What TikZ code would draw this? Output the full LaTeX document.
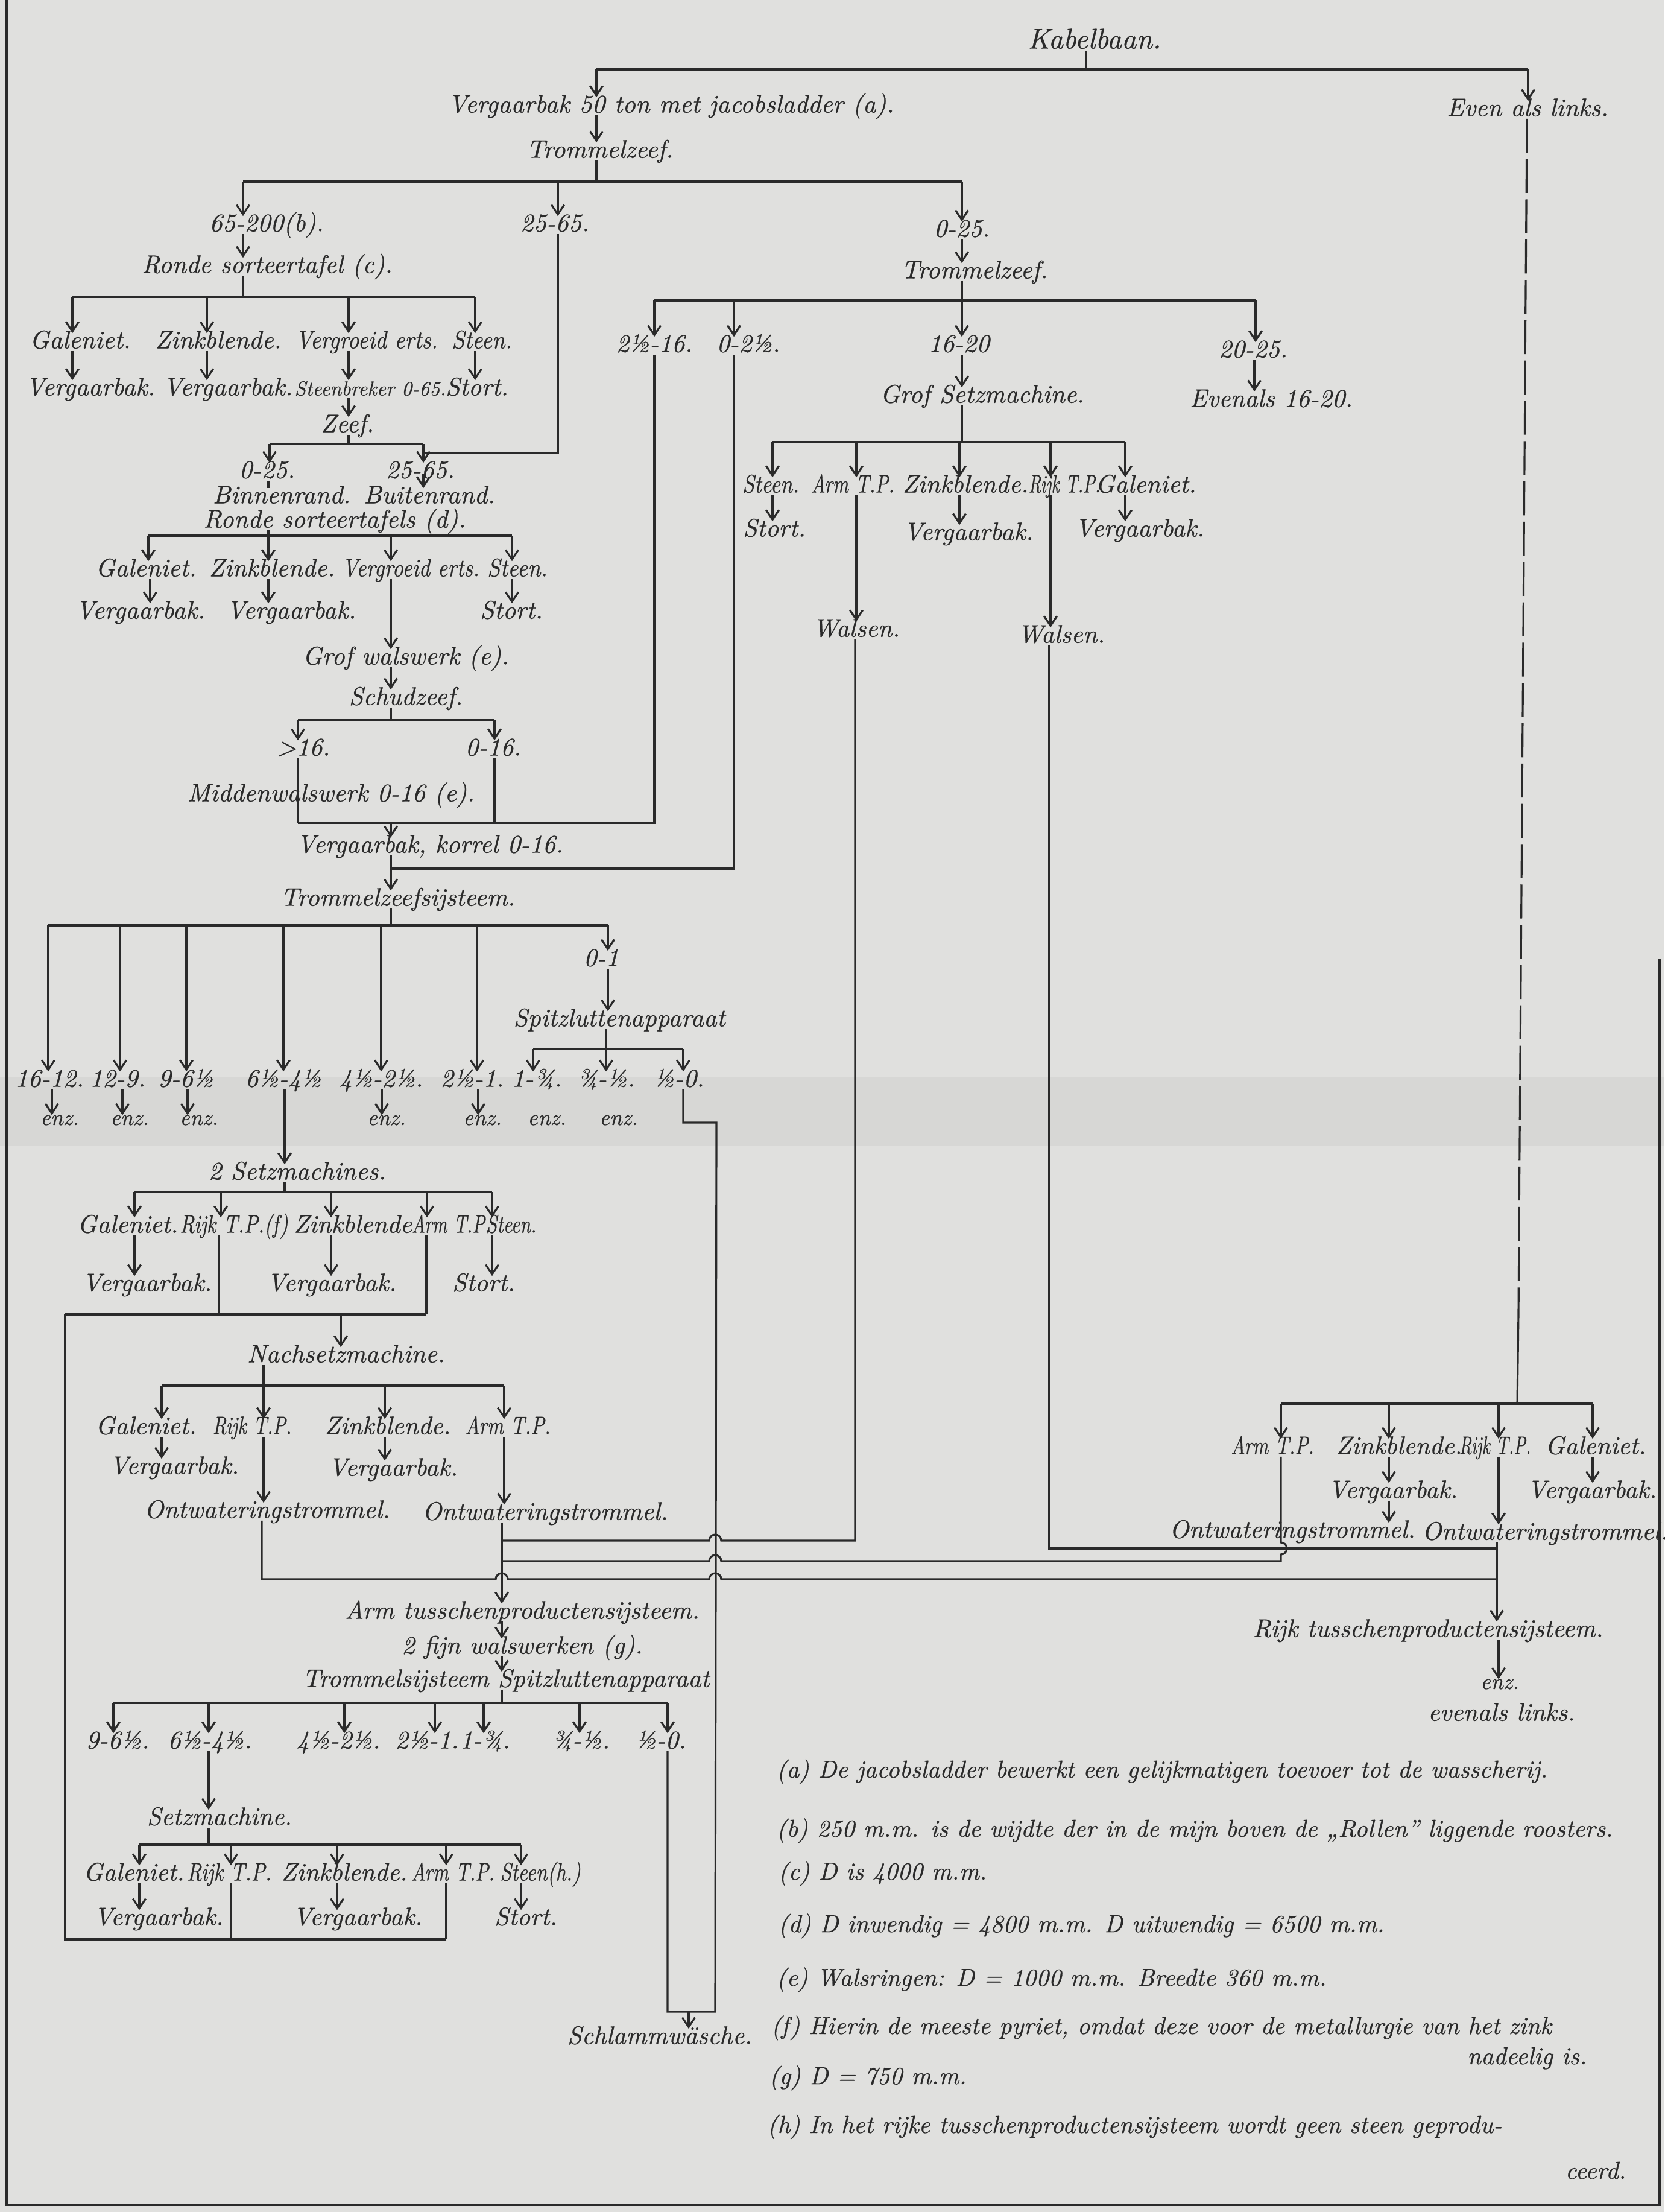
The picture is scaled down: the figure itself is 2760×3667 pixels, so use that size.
\documentclass[tikz,border=0pt]{standalone}
\usepackage{graphicx}
\usepackage{fontspec}
\newfontfamily\handit{lmroman10-italic}[Extension=.otf,FakeBold=0.6]
\usetikzlibrary{arrows.meta}
\definecolor{paper}{RGB}{224,224,222}
\definecolor{foldc}{RGB}{215,215,213}
\definecolor{ink}{RGB}{42,42,42}
\newcommand\labfont{\fontsize{12}{13}\handit}
\newcommand\kabfont{\fontsize{13.5}{14}\handit}
\newcommand\smlfont{\fontsize{9.5}{10}\handit}
\newcommand\enzfont{\fontsize{10.5}{11}\handit}
\newcommand\notefont{\fontsize{11.6}{13}\handit}
\newcommand\cz[2]{\scalebox{#1}[1]{#2}}
\tikzset{
  lab/.style={font=\labfont, text=ink, inner sep=0pt, text height=7pt, text depth=1pt},
  labk/.style={lab, font=\kabfont},
  labs/.style={lab, font=\smlfont},
  enzlab/.style={font=\enzfont, text=ink, inner sep=0pt, text height=4.5pt, text depth=0.5pt},
  note/.style={font=\notefont, text=ink, inner sep=0pt, anchor=base west},
  noteR/.style={font=\notefont, text=ink, inner sep=0pt, anchor=base east},
  ln/.style={draw=ink, line width=0.9pt},
  ar/.style={ln, -{Straight Barb[length=4.5pt,width=6pt]}},
  dashln/.style={ln, dash pattern=on 16pt off 3pt},
}
% arrow from a bar at (x,y) down to the top of a node
\newcommand\barto[3]{\draw[ar] (#1,#2) -- (#1,0 |- #3.north);}
% arrow from the bottom of one node to the top of another, at x
\newcommand\nodeto[3]{\draw[ar] (#1,0 |- #2.south) -- (#1,0 |- #3.north);}
% plain line from the bottom of a node down to y
\newcommand\stubto[3]{\draw[ln] (#1,0 |- #2.south) -- (#1,#3);}
\begin{document}
\begin{tikzpicture}[x=0.01cm,y=-0.01cm]
\fill[paper] (0,0) rectangle (2760,3667);
\fill[foldc] (0,1785) rectangle (2760,1900);
\useasboundingbox (0,0) rectangle (2760,3667);
% frame
\draw[ln] (11,0) -- (11,3655) -- (2752,3655) -- (2752,1590);

% ---------------- top ----------------
\node[labk] (kab) at (1815,70) {Kabelbaan.};
\node[lab] (v50) at (1113,176) {Vergaarbak 50 ton met jacobsladder (a).};
\node[lab] (even) at (2533,182) {Even als links.};
\node[lab] (tz1) at (995,251) {Trommelzeef.};
\stubto{1801}{kab}{115}
\draw[ln] (989,115) -- (2534,115);
\barto{989}{115}{v50}
\barto{2534}{115}{even}
\nodeto{989}{v50}{tz1}
\stubto{989}{tz1}{301}
\draw[ln] (403,301) -- (1595,301);
\node[lab] (n65) at (442,373) {65-200(b).};
\node[lab] (n2565) at (920,373) {25-65.};
\node[lab] (n025) at (1595,382) {0-25.};
\barto{403}{301}{n65}
\barto{925}{301}{n2565}
\barto{1595}{301}{n025}

% ---------------- 65-200 branch ----------------
\node[lab] (ronde1) at (443,442) {Ronde sorteertafel (c).};
\nodeto{403}{n65}{ronde1}
\stubto{403}{ronde1}{492}
\draw[ln] (120,492) -- (788,492);
\node[lab] (gal1) at (133,567) {Galeniet.};
\node[lab] (zb1) at (362,567) {Zinkblende.};
\node[lab] (vge1) at (608,567) {\cz{0.88}{Vergroeid erts.}};
\node[lab] (st1) at (799,567) {\cz{0.9}{Steen.}};
\barto{120}{492}{gal1}
\barto{343}{492}{zb1}
\barto{578}{492}{vge1}
\barto{788}{492}{st1}
\node[lab] (vb1) at (150,645) {Vergaarbak.};
\node[lab] (vb2) at (378,645) {Vergaarbak.};
\node[labs] (sbr) at (614,645) {Steenbreker 0-65.};
\node[lab] (stort1) at (791,645) {Stort.};
\nodeto{120}{gal1}{vb1}
\nodeto{343}{zb1}{vb2}
\nodeto{578}{vge1}{sbr}
\nodeto{788}{st1}{stort1}
\node[lab] (zeef) at (576,706) {Zeef.};
\nodeto{578}{sbr}{zeef}
\stubto{578}{zeef}{736}
\draw[ln] (447,736) -- (702,736);
\node[lab] (n025b) at (443,782) {0-25.};
\node[lab] (n2565b) at (697,782) {25-65.};
\barto{447}{736}{n025b}
\barto{702}{736}{n2565b}
\draw[ln] (925,0 |- n2565.south) -- (925,751) -- (702,751);
\node[lab] (binnen) at (467,824) {Binnenrand.};
\node[lab] (buiten) at (712,824) {Buitenrand.};
\draw[ln] (445,0 |- n025b.south) -- (445,0 |- binnen.north);
\draw[ar] (702,786) -- (702,0 |- buiten.north);
\node[lab] (ronde2) at (555,864) {Ronde sorteertafels (d).};
\stubto{445}{ronde2}{888}
\draw[ln] (246,888) -- (849,888);
\node[lab] (gal2) at (242,945) {Galeniet.};
\node[lab] (zb2) at (451,945) {Zinkblende.};
\node[lab] (vge2) at (681,945) {\cz{0.85}{Vergroeid erts.}};
\node[lab] (st2) at (858,945) {\cz{0.9}{Steen.}};
\barto{246}{888}{gal2}
\barto{445}{888}{zb2}
\barto{648}{888}{vge2}
\barto{849}{888}{st2}
\node[lab] (vb3) at (233,1015) {Vergaarbak.};
\node[lab] (vb4) at (483,1015) {Vergaarbak.};
\node[lab] (stort2) at (848,1015) {Stort.};
\nodeto{249}{gal2}{vb3}
\nodeto{445}{zb2}{vb4}
\nodeto{849}{st2}{stort2}
\node[lab] (grof) at (673,1091) {Grof walswerk (e).};
\nodeto{648}{vge2}{grof}
\node[lab] (schud) at (673,1158) {Schudzeef.};
\nodeto{648}{grof}{schud}
\stubto{648}{schud}{1194}
\draw[ln] (494,1194) -- (820,1194);
\node[lab] (gt16) at (503,1242) {\textgreater16.};
\node[lab] (n016) at (818,1242) {0-16.};
\barto{494}{1194}{gt16}
\barto{820}{1194}{n016}
\draw[ln] (494,0 |- gt16.south) -- (494,1364);
\draw[ln] (820,0 |- n016.south) -- (820,1364);
\node[lab] (midden) at (549,1318) {Middenwalswerk 0-16 (e).};
\node[lab] (korrel) at (713,1403) {Vergaarbak, korrel 0-16.};
\node[lab] (tzs) at (660,1491) {Trommelzeefsijsteem.};
\barto{648}{1364}{korrel}
\nodeto{648}{korrel}{tzs}
\stubto{648}{tzs}{1534}
\draw[ln] (80,1534) -- (1008,1534);
\node[lab] (r16) at (82,1791) {16-12.};
\node[lab] (r12) at (195,1791) {12-9.};
\node[lab] (r9) at (308,1791) {9-6½};
\node[lab] (r6) at (470,1791) {6½-4½};
\node[lab] (r4) at (632,1791) {4½-2½.};
\node[lab] (r2) at (783,1791) {2½-1.};
\node[lab] (r01) at (997,1591) {0-1};
\barto{80}{1534}{r16}
\barto{199}{1534}{r12}
\barto{309}{1534}{r9}
\barto{470}{1534}{r6}
\barto{632}{1534}{r4}
\barto{791}{1534}{r2}
\barto{1008}{1534}{r01}
\node[lab] (spitz1) at (1027,1691) {Spitzluttenapparaat};
\nodeto{1008}{r01}{spitz1}
\stubto{1005}{spitz1}{1739}
\draw[ln] (884,1739) -- (1133,1739);
\node[lab] (r1) at (890,1791) {1-¾.};
\node[lab] (r34) at (1005,1791) {¾-½.};
\node[lab] (r12b) at (1126,1791) {½-0.};
\barto{884}{1739}{r1}
\barto{1005}{1739}{r34}
\barto{1133}{1739}{r12b}
\node[enzlab] (e1) at (99,1858) {enz.};
\node[enzlab] (e2) at (215,1858) {enz.};
\node[enzlab] (e3) at (330,1858) {enz.};
\node[enzlab] (e4) at (641,1858) {enz.};
\node[enzlab] (e5) at (800,1858) {enz.};
\node[enzlab] (e6) at (907,1858) {enz.};
\node[enzlab] (e7) at (1026,1858) {enz.};
\nodeto{86}{r16}{e1}
\nodeto{203}{r12}{e2}
\nodeto{311}{r9}{e3}
\nodeto{633}{r4}{e4}
\nodeto{793}{r2}{e5}

% ---------------- 2 Setzmachines ----------------
\node[lab] (set2) at (493,1945) {2 Setzmachines.};
\nodeto{472}{r6}{set2}
\stubto{472}{set2}{1976}
\draw[ln] (223,1976) -- (816,1976);
\node[lab] (g3) at (212,2033) {Galeniet.};
\node[lab] (rijk3) at (388,2033) {\cz{0.8}{Rijk T.P.(f)}};
\node[lab] (zb3) at (585,2033) {Zinkblende};
\node[lab] (arm3) at (748,2033) {\cz{0.72}{Arm T.P.}};
\node[lab] (st3) at (848,2033) {\cz{0.75}{Steen.}};
\barto{223}{1976}{g3}
\barto{366}{1976}{rijk3}
\barto{549}{1976}{zb3}
\barto{708}{1976}{arm3}
\barto{816}{1976}{st3}
\node[lab] (vb5) at (244,2130) {Vergaarbak.};
\node[lab] (vb6) at (550,2130) {Vergaarbak.};
\node[lab] (stort3) at (802,2130) {Stort.};
\nodeto{223}{g3}{vb5}
\nodeto{549}{zb3}{vb6}
\nodeto{816}{st3}{stort3}
\draw[ln] (363,0 |- rijk3.south) -- (363,2179);
\draw[ln] (707,0 |- arm3.south) -- (707,2179);
\draw[ln] (108,2179) -- (707,2179);
\node[lab] (nach) at (574,2248) {Nachsetzmachine.};
\barto{565}{2179}{nach}
\stubto{437}{nach}{2297}
\draw[ln] (268,2297) -- (836,2297);
\node[lab] (ng) at (242,2367) {Galeniet.};
\node[lab] (nr) at (418,2367) {\cz{0.75}{Rijk T.P.}};
\node[lab] (nz) at (643,2367) {Zinkblende.};
\node[lab] (na) at (842,2367) {\cz{0.78}{Arm T.P.}};
\barto{268}{2297}{ng}
\barto{437}{2297}{nr}
\barto{638}{2297}{nz}
\barto{836}{2297}{na}
\node[lab] (nvb1) at (289,2433) {Vergaarbak.};
\node[lab] (nvb2) at (652,2436) {Vergaarbak.};
\nodeto{268}{ng}{nvb1}
\nodeto{638}{nz}{nvb2}
\node[lab] (ontL) at (443,2506) {Ontwateringstrommel.};
\node[lab] (ontR) at (904,2509) {Ontwateringstrommel.};
\nodeto{437}{nr}{ontL}
\nodeto{836}{na}{ontR}

% ---------------- Arm tusschenproducten ----------------
\node[lab] (armts) at (866,2673) {Arm tusschenproductensijsteem.};
\node[lab] (fijn) at (866,2731) {2 fijn walswerken (g).};
\node[lab] (tspitz) at (839,2786) {Trommelsijsteem Spitzluttenapparaat};
\nodeto{832}{ontR}{armts}
\nodeto{832}{armts}{fijn}
\nodeto{832}{fijn}{tspitz}
\stubto{832}{tspitz}{2823}
\draw[ln] (188,2823) -- (1107,2823);
\node[lab] (s9) at (195,2888) {9-6½.};
\node[lab] (s6) at (348,2888) {6½-4½.};
\node[lab] (s4) at (561,2888) {4½-2½.};
\node[lab] (s2) at (708,2888) {2½-1.};
\node[lab] (s1) at (804,2888) {1-¾.};
\node[lab] (s34) at (963,2888) {¾-½.};
\node[lab] (s12) at (1096,2888) {½-0.};
\barto{188}{2823}{s9}
\barto{346}{2823}{s6}
\barto{571}{2823}{s4}
\barto{721}{2823}{s2}
\barto{802}{2823}{s1}
\barto{961}{2823}{s34}
\barto{1107}{2823}{s12}
\node[lab] (setz) at (364,3015) {Setzmachine.};
\nodeto{346}{s6}{setz}
\stubto{346}{setz}{3058}
\draw[ln] (231,3058) -- (864,3058);
\node[lab] (fg) at (222,3107) {Galeniet.};
\node[lab] (fr) at (380,3107) {\cz{0.8}{Rijk T.P.}};
\node[lab] (fz) at (571,3107) {Zinkblende.};
\node[lab] (fa) at (751,3107) {\cz{0.76}{Arm T.P.}};
\node[lab] (fs) at (896,3107) {\cz{0.8}{Steen(h.)}};
\barto{231}{3058}{fg}
\barto{383}{3058}{fr}
\barto{559}{3058}{fz}
\barto{740}{3058}{fa}
\barto{864}{3058}{fs}
\node[lab] (fvb1) at (263,3181) {Vergaarbak.};
\node[lab] (fvb2) at (593,3181) {Vergaarbak.};
\node[lab] (fstort) at (872,3181) {Stort.};
\nodeto{231}{fg}{fvb1}
\nodeto{559}{fz}{fvb2}
\nodeto{864}{fs}{fstort}
\draw[ln] (383,0 |- fr.south) -- (383,3215);
\draw[ln] (740,0 |- fa.south) -- (740,3215);
\draw[ln] (740,3215) -- (108,3215) -- (108,2179);
\node[lab] (schlamm) at (1094,3378) {Schlammwäsche.};
\draw[ln] (1133,0 |- r12b.south) -- (1133,1861) -- (1188,1861) -- (1186,3335) -- (1107,3335) -- (1107,0 |- s12.south);
\draw[ar] (1142,3335) -- (1142,0 |- schlamm.north);

% ---------------- 0-25 branch ----------------
\node[lab] (tz2) at (1616,451) {Trommelzeef.};
\nodeto{1595}{n025}{tz2}
\stubto{1595}{tz2}{498}
\draw[ln] (1085,498) -- (2082,498);
\node[lab] (n2516) at (1085,573) {2½-16.};
\node[lab] (n0212) at (1241,573) {0-2½.};
\node[lab] (n1620) at (1590,573) {16-20};
\node[lab] (n2025) at (2078,582) {20-25.};
\barto{1085}{498}{n2516}
\barto{1217}{498}{n0212}
\barto{1595}{498}{n1620}
\barto{2082}{498}{n2025}
\draw[ln] (1085,0 |- n2516.south) -- (1085,1364) -- (494,1364);
\draw[ln] (1217,0 |- n0212.south) -- (1217,1440) -- (648,1440);
\node[lab] (gsm) at (1629,657) {Grof Setzmachine.};
\node[lab] (ev1620) at (2108,664) {Evenals 16-20.};
\nodeto{1595}{n1620}{gsm}
\nodeto{2080}{n2025}{ev1620}
\stubto{1595}{gsm}{733}
\draw[ln] (1281,733) -- (1866,733);
\node[lab] (gst) at (1278,806) {\cz{0.85}{Steen.}};
\node[lab] (garm) at (1414,806) {\cz{0.76}{Arm T.P.}};
\node[lab] (gzb) at (1601,806) {Zinkblende.};
\node[lab] (grijk) at (1765,806) {\cz{0.68}{Rijk T.P.}};
\node[lab] (ggal) at (1900,806) {Galeniet.};
\barto{1281}{733}{gst}
\barto{1420}{733}{garm}
\barto{1591}{733}{gzb}
\barto{1742}{733}{grijk}
\barto{1866}{733}{ggal}
\node[lab] (gstort) at (1284,879) {Stort.};
\node[lab] (gvb1) at (1606,885) {Vergaarbak.};
\node[lab] (gvb2) at (1890,879) {Vergaarbak.};
\nodeto{1281}{gst}{gstort}
\nodeto{1591}{gzb}{gvb1}
\nodeto{1866}{ggal}{gvb2}
\node[lab] (walsen1) at (1420,1045) {Walsen.};
\node[lab] (walsen2) at (1760,1055) {Walsen.};
\nodeto{1420}{garm}{walsen1}
\nodeto{1742}{grijk}{walsen2}

% ---------------- right branch ----------------
\draw[dashln] (2532,0 |- even.south) -- (2518,2176);
\draw[ln] (2518,2176) -- (2516,2327);
\draw[ln] (2124,2327) -- (2641,2327);
\node[lab] (rarm) at (2110,2400) {\cz{0.76}{Arm T.P.}};
\node[lab] (rzb) at (2320,2400) {Zinkblende.};
\node[lab] (rrijk) at (2479,2400) {\cz{0.68}{Rijk T.P.}};
\node[lab] (rgal) at (2646,2400) {Galeniet.};
\barto{2124}{2327}{rarm}
\barto{2303}{2327}{rzb}
\barto{2485}{2327}{rrijk}
\barto{2641}{2327}{rgal}
\node[lab] (rvb1) at (2310,2473) {Vergaarbak.};
\node[lab] (rvb2) at (2640,2473) {Vergaarbak.};
\nodeto{2303}{rzb}{rvb1}
\nodeto{2641}{rgal}{rvb2}
\node[lab] (rontL) at (2143,2539) {Ontwateringstrommel.};
\node[lab] (rontR) at (2562,2542) {Ontwateringstrommel.};
\nodeto{2303}{rvb1}{rontL}
\nodeto{2485}{rrijk}{rontR}
\node[lab] (rijkts) at (2368,2703) {Rijk tusschenproductensijsteem.};
\nodeto{2482}{rontR}{rijkts}
\node[enzlab] (enzR) at (2487,2793) {enz.};
\node[lab] (evR) at (2490,2842) {evenals links.};
\nodeto{2485}{rijkts}{enzR}

% ---------------- crossing return lines ----------------
% Arm T.P. (Walsen) to Arm tusschenproducten
\draw[ln] (1418,0 |- walsen1.south) -- (1418,2554) -- (1196,2554)
  arc[start angle=360,end angle=180,radius=10] -- (832,2554);
% Rijk T.P. (Walsen) to Rijk tusschenproducten
\draw[ln] (1740,0 |- walsen2.south) -- (1740,2567) -- (2482,2567);
% Arm T.P. (right) to Arm tusschenproducten
\draw[ln] (2124,0 |- rarm.south) -- (2124,2557)
  arc[start angle=270,end angle=450,radius=10] -- (2124,2588) -- (1196,2588)
  arc[start angle=360,end angle=180,radius=10] -- (832,2588);
% Rijk T.P. (Nachsetzmachine) to Rijk tusschenproducten
\draw[ln] (434,0 |- ontL.south) -- (434,2618) -- (822,2618)
  arc[start angle=180,end angle=360,radius=10] -- (1176,2618)
  arc[start angle=180,end angle=360,radius=10] -- (2482,2618);

% ---------------- footnotes ----------------
\node[note] (fa1) at (1287,2947) {(a) De jacobsladder bewerkt een gelijkmatigen toevoer tot de wasscherij.};
\node[note] (fb1) at (1287,3045) {(b) 250 m.m. is de wijdte der in de mijn boven de „Rollen” liggende roosters.};
\node[note] (fc1) at (1290,3116) {(c) D is 4000 m.m.};
\node[note] (fd1) at (1290,3203) {(d) D inwendig = 4800 m.m. D uitwendig = 6500 m.m.};
\node[note] (fe1) at (1287,3292) {(e) Walsringen: D = 1000 m.m. Breedte 360 m.m.};
\node[note] (ff1) at (1278,3372) {(f) Hierin de meeste pyriet, omdat deze voor de metallurgie van het zink};
\node[noteR] (ff2) at (2632,3422) {nadeelig is.};
\node[note] (fg1) at (1275,3455) {(g) D = 750 m.m.};
\node[note] (fh1) at (1272,3536) {(h) In het rijke tusschenproductensijsteem wordt geen steen geprodu-};
\node[noteR] (fh2) at (2697,3612) {ceerd.};
\end{tikzpicture}
\end{document}
